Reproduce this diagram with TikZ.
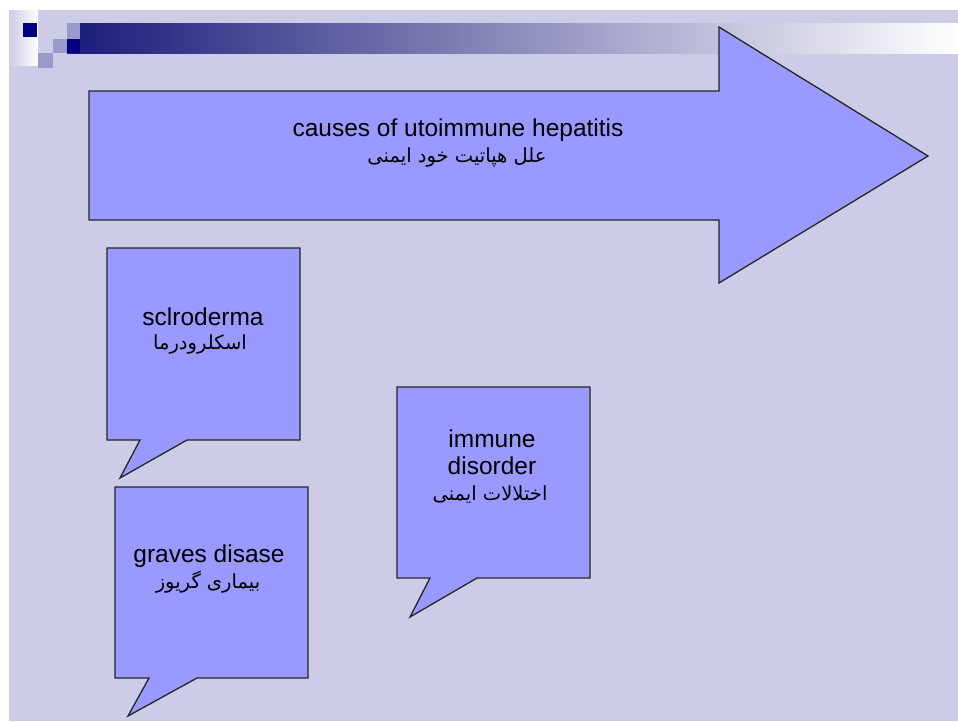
\documentclass[tikz,border=0pt]{standalone}
\usepackage{fontspec}
\setmainfont{Liberation Sans}
\newfontfamily\arabicfont[Script=Arabic]{DejaVu Sans}
\TeXXeTstate=1
\definecolor{slidebg}{RGB}{204,204,230}
\definecolor{shapefill}{RGB}{153,153,255}
\definecolor{pixdark}{RGB}{0,0,128}
\definecolor{pixlight}{RGB}{153,153,204}
\definecolor{bardark}{RGB}{26,26,122}
\definecolor{barmid}{RGB}{173,173,191}
\begin{document}
\begin{tikzpicture}[x=1pt, y=-1pt,
    blob/.style={fill=shapefill, draw=black!85, line width=1.3pt},
    entext/.style={anchor=base, inner sep=0pt, font=\fontsize{24.5}{28}\selectfont},
    fatext/.style={anchor=base, inner sep=0pt, font=\arabicfont\fontsize{19.5}{22}\selectfont}]
    \useasboundingbox (0,0) rectangle (958,721);

    % Slide background
    \fill[white] (0,0) rectangle (958,721);
    \fill[slidebg] (9,10) rectangle (958,721);

    % Title bar with pixels
    \shade[left color=slidebg, right color=white] (9,10) rectangle (38,65);
    \shade[left color=bardark, middle color=barmid, right color=white] (67,23) rectangle (958,53);
    \fill[pixdark] (23,23) rectangle (37,37);
    \fill[pixdark] (67,39) rectangle (80,53);
    \fill[pixlight] (67,23) rectangle (80,39);
    \fill[pixlight] (53,39) rectangle (67,53);
    \fill[pixlight] (38,53) rectangle (53,68);

    % Big arrow
    \draw[blob, line join=miter] (89,91) -- (719,91) -- (719,27) -- (928,156)
        -- (719,283) -- (719,220) -- (89,220) -- cycle;
    \node[entext] (title) at (458,136) {causes of utoimmune hepatitis};
    \node[fatext] (titlefa) at (457,162) {\beginR علل هپاتیت خود ایمنی\endR};

    % Callout for sclroderma
    \draw[blob] (107,248) -- (300,248) -- (300,440) -- (187,440) -- (120,478)
        -- (140,440) -- (107,440) -- cycle;
    \node[entext] (sclero) at (203,325) {sclroderma};
    \node[fatext] (sclerofa) at (200,349) {\beginR اسکلرودرما\endR};

    % Callout for graves disase
    \draw[blob] (115,487) -- (308,487) -- (308,678) -- (197,678) -- (128,716)
        -- (149,678) -- (115,678) -- cycle;
    \node[entext] (graves) at (209,562) {graves disase};
    \node[fatext] (gravesfa) at (208,588) {\beginR بیماری گریوز\endR};

    % Callout for immune disorder
    \draw[blob] (397,387) -- (590,387) -- (590,578) -- (477,578) -- (410,617)
        -- (430,578) -- (397,578) -- cycle;
    \node[entext] (immune) at (492,447) {immune};
    \node[entext] (disorder) at (492,474) {disorder};
    \node[fatext] (immunefa) at (490,500) {\beginR اختلالات ایمنی\endR};
\end{tikzpicture}
\end{document}
